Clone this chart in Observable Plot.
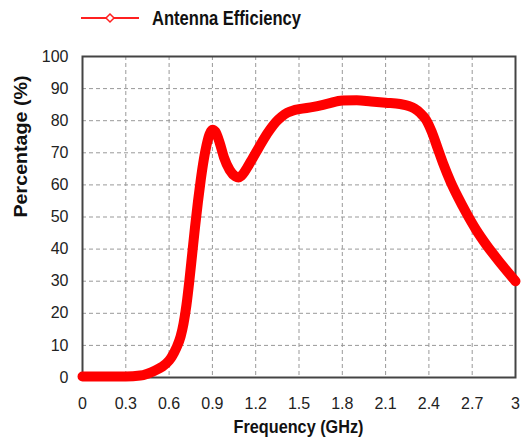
<!DOCTYPE html>
<html>
<head>
<meta charset="utf-8">
<script src="https://cdn.jsdelivr.net/npm/d3@7"></script>
<script src="https://cdn.jsdelivr.net/npm/@observablehq/plot@0.6"></script>
<style>
  body { margin: 0; background: #fff; }
  #legend { width: 521px; height: 34px; }
  #legend svg { display: block; }
</style>
</head>
<body>
<div id="legend"></div>
<div id="chart"></div>
<script>
const seriesName = "Antenna Efficiency";
const freq = [0, 0.3, 0.4, 0.45, 0.5, 0.55, 0.6, 0.62, 0.65, 0.68, 0.7, 0.72, 0.74, 0.76, 0.78, 0.8, 0.82, 0.84, 0.86, 0.88, 0.9, 0.92, 0.95, 0.98, 1.02, 1.06, 1.08, 1.1, 1.14, 1.18, 1.22, 1.26, 1.3, 1.34, 1.38, 1.42, 1.46, 1.5, 1.6, 1.7, 1.8, 1.9, 2.0, 2.1, 2.2, 2.26, 2.3, 2.34, 2.38, 2.42, 2.46, 2.5, 2.55, 2.6, 2.66, 2.73, 2.8, 2.9, 3.0];
const eff  = [0.3, 0.3, 0.6, 1.2, 2.1, 3.3, 5.3, 6.6, 9.2, 12.8, 16.8, 22.5, 30, 38.5, 47, 54.8, 61.8, 67.8, 72.5, 75.8, 77.2, 76.6, 73.2, 68.6, 64.6, 62.6, 62.3, 62.8, 65.3, 68.4, 71.5, 74.6, 77.3, 79.6, 81.3, 82.5, 83.2, 83.6, 84.3, 85.3, 86.3, 86.4, 86, 85.6, 85.2, 84.6, 83.8, 82.4, 80.3, 76.5, 71.5, 66.5, 61, 56.3, 51.2, 45.8, 41.2, 35.4, 30];
const xTicks = [0, 0.3, 0.6, 0.9, 1.2, 1.5, 1.8, 2.1, 2.4, 2.7, 3];
const yTicks = [0, 10, 20, 30, 40, 50, 60, 70, 80, 90, 100];
const xLabel = "Frequency (GHz)";
const yLabel = "Percentage (%)";

const data = freq.map((f, i) => ({f, e: eff[i]}));
const boldFont = "'Liberation Sans', Arial, sans-serif";

// legend
const leg = document.getElementById("legend");
leg.innerHTML = `<svg width="521" height="34"><line x1="81" y1="18" x2="139" y2="18" stroke="#ff2020" stroke-width="2"/><path d="M110,14 L114,18 L110,22 L106,18 Z" fill="#fff" stroke="#ff2020" stroke-width="1.5"/><text x="152" y="18" dy="0.36em" font-family="${boldFont}" font-weight="bold" font-size="20" fill="#111" textLength="149" lengthAdjust="spacingAndGlyphs">${seriesName}</text></svg>`;

const chart = Plot.plot({
  width: 521,
  height: 403,
  marginTop: 22,
  marginBottom: 60,
  marginLeft: 82,
  marginRight: 6,
  style: {fontFamily: "'Liberation Sans', Arial, sans-serif", fontSize: "16px", color: "#222", background: "#fff"},
  x: {domain: [0, 3], ticks: xTicks, tickFormat: d => String(+d.toFixed(1)), tickSize: 0, tickPadding: 20, label: null},
  y: {domain: [0, 100], ticks: yTicks, tickSize: 0, tickPadding: 14, label: null},
  marks: [
    Plot.gridX(xTicks.slice(1, -1), {stroke: "#999", strokeOpacity: 1, strokeDasharray: "4,3"}),
    Plot.gridY(yTicks.slice(1, -1), {stroke: "#999", strokeOpacity: 1, strokeDasharray: "4,3"}),
    Plot.frame({stroke: "#444", strokeWidth: 2}),
    Plot.line(data, {x: "f", y: "e", stroke: "#ff0000", strokeWidth: 10, curve: "monotone-x", strokeLinecap: "round", strokeLinejoin: "round"})
  ]
});

// axis titles, positioned from the plot's own scale ranges
const xr = chart.scale("x").range, yr = chart.scale("y").range;
const svg = d3.select(chart);
svg.append("text")
  .attr("x", (xr[0] + xr[1]) / 2).attr("y", yr[0] + 56)
  .attr("text-anchor", "middle").attr("font-family", boldFont).attr("font-weight", "bold")
  .attr("font-size", 18).attr("fill", "#111")
  .attr("textLength", 130).attr("lengthAdjust", "spacingAndGlyphs")
  .text(xLabel);
svg.append("text")
  .attr("transform", `translate(${xr[0] - 62},${(yr[0] + yr[1]) / 2 - 70}) rotate(-90)`)
  .attr("dy", "0.36em")
  .attr("text-anchor", "middle").attr("font-family", boldFont).attr("font-weight", "bold")
  .attr("font-size", 19).attr("fill", "#111")
  .attr("textLength", 142).attr("lengthAdjust", "spacingAndGlyphs")
  .text(yLabel);
document.getElementById("chart").appendChild(chart);
</script>
</body>
</html>
